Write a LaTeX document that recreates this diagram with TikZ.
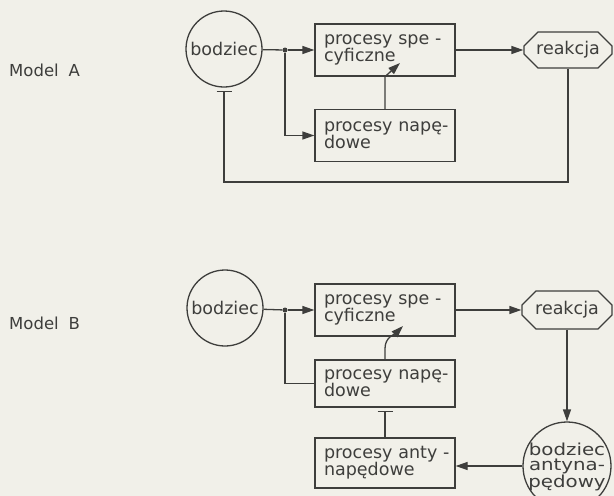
\documentclass[tikz,border=0pt]{standalone}
\usepackage{fontspec}
\setmainfont{DejaVu Sans}
\newfontfamily\widefont[FakeStretch=1.2]{DejaVu Sans}
\usetikzlibrary{arrows.meta,shapes.misc,calc}
\definecolor{paper}{RGB}{241,240,233}
\definecolor{ink}{RGB}{62,62,60}
% two fixed lines of box text, never rewrapped
\newcommand\boxlines[2]{\mbox{#1}\\\mbox{#2}}
\tikzset{
  wire/.style={line width=1.3pt, draw=ink},
  arr/.style={wire, -{Triangle[length=12pt,width=8pt]}},
  inhib/.style={wire, -{Bar[width=15pt,line width=1.6pt]}, shorten >=3pt},
  procbox/.style={draw=ink, line width=1.3pt, minimum width=140pt, minimum height=52pt,
    text width=122pt, align=left, inner xsep=9pt, inner ysep=0pt, text=ink,
    font=\fontsize{17.5}{17}\selectfont},
  stim/.style={circle, draw=ink, line width=1.3pt, minimum size=76pt, inner sep=0pt,
    text=ink, font=\fontsize{17.5}{17}\selectfont},
  resp/.style={chamfered rectangle, chamfered rectangle xsep=7pt, chamfered rectangle ysep=7pt,
    draw=ink, line width=1.3pt, minimum width=88pt, minimum height=36pt, inner sep=0pt,
    text=ink, font=\fontsize{17.5}{17}\selectfont},
  dot/.style={circle, fill=ink, inner sep=0pt, minimum size=5pt},
  modeltitle/.style={anchor=west, text=ink, inner sep=0pt, font=\fontsize{16.5}{17}\selectfont},
}
\begin{document}
\begin{tikzpicture}[x=1pt,y=-1pt]
\fill[paper] (0,0) rectangle (614,496);
\useasboundingbox (0,0) rectangle (614,496);

% ---------- Model A ----------
\node[modeltitle] (tA) at (9,70) {Model\hspace{10pt}A};
\node[stim] (bodA) at (224,49) {bodziec};
\node[procbox] (A1) at (385,50) {\boxlines{procesy spe -}{cyficzne}};
\node[procbox] (A2) at (385,135.5) {\boxlines{procesy napę-}{dowe}};
\node[resp] (reakA) at (568,50) {reakcja};
\node[dot] (jA) at (285,50) {};
\coordinate (tipA) at (400,63);
\coordinate (loopA) at (224,182);

\draw[wire] (bodA) -- (jA);
\draw[arr] (jA) -- (A1.west);
\draw[arr] (jA) |- (A2.west);
\draw[arr] (A2.north) -- (A2.north |- A1.south) -- (tipA);
\draw[arr] (A1.east) -- (reakA.west);
\draw[inhib] (reakA.south) |- (loopA) -- (bodA.south);

% ---------- Model B ----------
\node[modeltitle] (tB) at (9,323) {Model\hspace{10pt}B};
\node[stim] (bodB) at (225,308) {bodziec};
\node[procbox] (B1) at (385,310) {\boxlines{procesy spe -}{cyficzne}};
\node[procbox, minimum height=47pt] (B2) at (385,383.5) {\boxlines{procesy napę-}{dowe}};
\node[procbox, minimum height=50pt] (B3) at (385,463) {\boxlines{procesy anty -}{napędowe}};
\node[resp, minimum width=90pt, minimum height=38pt] (reakB) at (567,310) {reakcja};
\node[circle, draw=ink, line width=1.3pt, minimum size=88pt, inner sep=0pt] (antB) at (567,466) {};
\node[align=center, inner sep=0pt, text=ink, font=\widefont\fontsize{16.5}{15}\selectfont]
  (antBtext) at (567,467) {bodziec\\antyna-\\pędowy};
\node[dot] (jB) at (285,310) {};
\coordinate (tipB) at (403,326);

\draw[wire] (bodB) -- (jB);
\draw[arr] (jB) -- (B1.west);
\draw[wire] (jB) |- (B2.west);
\draw[arr] (B2.north) -- ++(0,-11) to[out=90,in=225] (tipB);
\draw[inhib] (B3.north) -- (B2.south);
\draw[arr] (B1.east) -- (reakB.west);
\draw[arr] (reakB.south) -- (antB.north);
\draw[arr] (antB.west) -- (antB.west -| B3.east);
\end{tikzpicture}
\end{document}
